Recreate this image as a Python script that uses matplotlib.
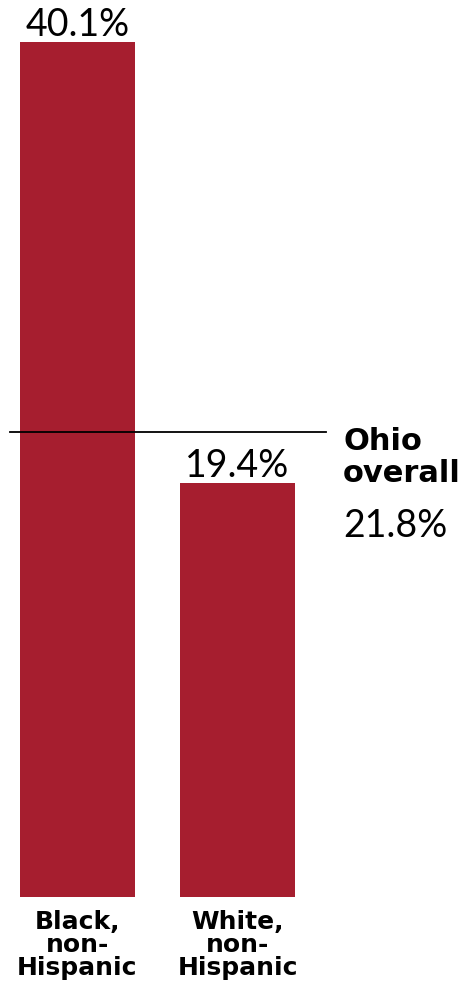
import matplotlib.pyplot as plt

# Share of population, by race
groups = ["Black,\nnon-\nHispanic", "White,\nnon-\nHispanic"]
rates = [40.1, 19.4]
ohio_overall = 21.8

BAR_COLOR = "#a61e2f"
VALUE_FONT = ["Lato", "DejaVu Sans"]
LABEL_FONT = ["DejaVu Sans"]

fig = plt.figure(figsize=(4.75, 9.94), dpi=100)
ax = fig.add_axes([0, 97 / 994, 1, 897 / 994])

x = list(range(len(groups)))
ax.bar(x, rates, width=0.72, color=BAR_COLOR)
ax.set_xlim(-0.484, 2.484)
ax.set_ylim(0, 42.07)

for xi, v in zip(x, rates):
    ax.text(xi, v - 0.05, f"{v}%", ha="center", va="bottom",
            fontsize=27, family=VALUE_FONT)

for xi, g in zip(x, groups):
    ax.text(xi, -0.6, g, ha="center", va="top", fontsize=18,
            family=LABEL_FONT, fontweight="bold", linespacing=0.96)

# state average reference line
ax.axhline(ohio_overall, xmin=10 / 475, xmax=326 / 475, color="black", lw=1.3)
ax.text(1.66, ohio_overall + 0.25, "Ohio\noverall", ha="left", va="top",
        fontsize=22, family=LABEL_FONT, fontweight="bold", linespacing=1.14)
ax.text(1.66, ohio_overall - 3.55, f"{ohio_overall}%", ha="left", va="top",
        fontsize=27, family=VALUE_FONT)

ax.axis("off")
fig.savefig("out.png", dpi=100)
